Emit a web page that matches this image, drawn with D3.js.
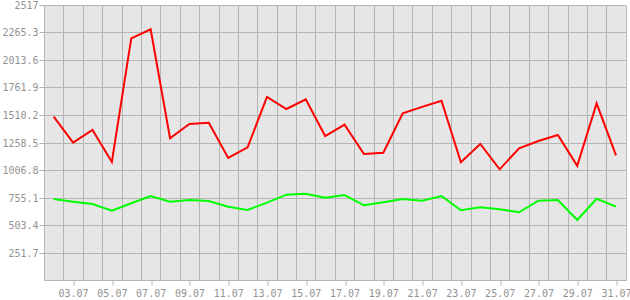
<!DOCTYPE html>
<html>
<head>
<meta charset="utf-8">
<script src="https://cdn.jsdelivr.net/npm/d3@7"></script>
<style>
body { margin: 0; background: #fff; }
text { font-family: "DejaVu Sans Mono", monospace; font-size: 10px; fill: #929292; }
</style>
</head>
<body>
<div id="graph"></div>
<script>
// days of july shown, one point per day
var days = [2,3,4,5,6,7,8,9,10,11,12,13,14,15,16,17,18,19,20,21,22,23,24,25,26,27,28,29,30,31];
var redValues = [1495,1257,1373,1080,2212,2295,1297,1428,1440,1117,1215,1675,1565,1654,1318,1422,1153,1165,1526,1585,1641,1078,1245,1013,1205,1272,1327,1045,1617,1140];
var greenValues = [741,717,696,634,702,769,717,732,723,671,641,708,781,790,753,778,684,711,741,726,769,638,665,647,620,726,732,549,744,671];
var yTicks = [251.7,503.4,755.1,1006.8,1258.5,1510.2,1761.9,2013.6,2265.3,2517];
var xTicks = [3,5,7,9,11,13,15,17,19,21,23,25,27,29,31];

var graph_width = 630, graph_height = 300;
var plot_left = 44, plot_right = 625.7, plot_top = 5, plot_bottom = 280;

var svg = d3.select('#graph').append('svg')
	.attr('width', graph_width)
	.attr('height', graph_height);

var x = d3.scaleLinear().domain([1.5, 31.5]).range([plot_left, plot_right]);
var y = d3.scaleLinear().domain([0, 2517]).range([plot_bottom, plot_top]);

function px(v) { return Math.round(v) + 0.5; }

svg.append('rect')
	.attr('x', plot_left).attr('y', plot_top)
	.attr('width', plot_right - plot_left).attr('height', plot_bottom - plot_top)
	.attr('fill', '#e6e6e6');

// vertical grid at half days
var vgrid = d3.range(1.5, 32, 1);
svg.selectAll('line.vg').data(vgrid).enter().append('line')
	.attr('x1', function(d){ return px(x(d)); })
	.attr('x2', function(d){ return px(x(d)); })
	.attr('y1', px(plot_top)).attr('y2', px(plot_bottom))
	.attr('stroke', '#b4b4b4').attr('stroke-width', 1);

// horizontal grid, with a short tick left of the axis
svg.selectAll('line.hg').data([0].concat(yTicks)).enter().append('line')
	.attr('x1', function(d){ return d == 0 ? px(plot_left) : px(plot_left) - 5; })
	.attr('x2', px(plot_right))
	.attr('y1', function(d){ return px(y(d)); })
	.attr('y2', function(d){ return px(y(d)); })
	.attr('stroke', '#b4b4b4').attr('stroke-width', 1);

// y labels
svg.selectAll('text.yl').data(yTicks).enter().append('text')
	.attr('x', 38.5)
	.attr('y', function(d){ return px(y(d)); })
	.attr('dy', '0.35em')
	.attr('text-anchor', 'end')
	.text(function(d){ return d3.format('.1f')(d).replace(/\.0$/, ''); });

// x axis ticks and labels
var xAxis = d3.axisBottom(x)
	.tickValues(xTicks)
	.tickSize(5)
	.tickPadding(4)
	.tickFormat(function(d){ return (d < 10 ? '0' : '') + d + '.07'; });
var gx = svg.append('g')
	.attr('transform', 'translate(0,' + px(plot_bottom) + ')')
	.call(xAxis);
gx.select('.domain').remove();
gx.selectAll('.tick line').attr('stroke', '#b4b4b4')
	.attr('transform', function(d){ return 'translate(' + (px(x(d)) - x(d)) + ',0)'; });
gx.selectAll('.tick text').attr('fill', '#929292')
	.style('font-family', '"DejaVu Sans Mono", monospace').style('font-size', '10px');

function drawLine(values, color)
{
	var line = d3.line()
		.x(function(d, i){ return x(days[i]); })
		.y(function(d){ return y(d); });
	svg.append('path')
		.datum(values)
		.attr('d', line)
		.attr('fill', 'none')
		.attr('stroke', color)
		.attr('stroke-width', 2)
		.attr('stroke-linejoin', 'miter');
}

drawLine(greenValues, '#00ff00');
drawLine(redValues, '#ff0000');
</script>
</body>
</html>
